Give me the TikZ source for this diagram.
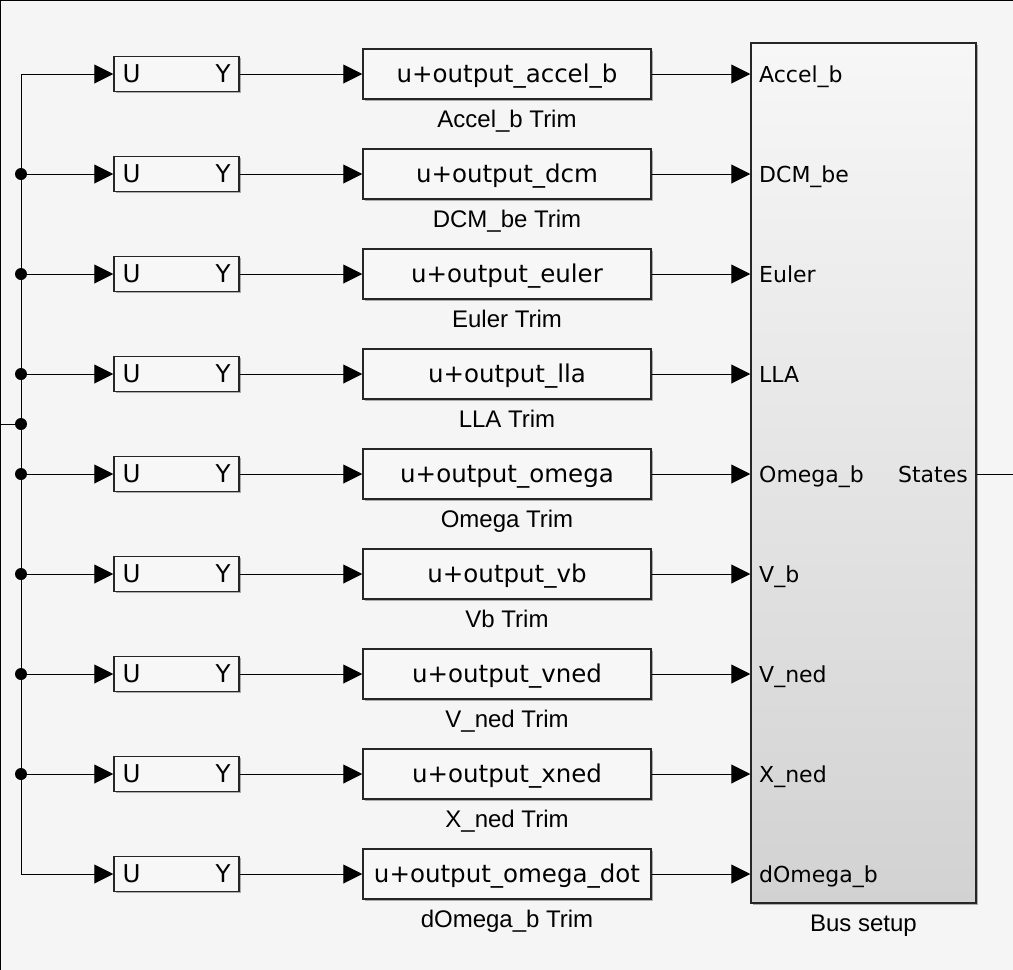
\documentclass[tikz,border=0pt]{standalone}
\usepackage{fontspec}
\newfontfamily\dvfont{DejaVu Sans}
\newfontfamily\libfont{Liberation Sans}
\usetikzlibrary{arrows.meta,shadows}
\definecolor{bgc}{HTML}{F5F5F5}
\definecolor{blkfill}{HTML}{F7F7F7}
\definecolor{bustop}{HTML}{F7F7F7}
\definecolor{busbot}{HTML}{D2D2D2}
\tikzset{
  shad/.style={drop shadow={shadow xshift=1.5pt,shadow yshift=-1.5pt,opacity=0.3,fill=black}},
  uyblk/.style={draw=black!85, line width=1.5pt, fill=blkfill, shad, minimum width=125pt, minimum height=35pt, inner sep=0pt,
    font=\dvfont\fontsize{24.5}{28}\selectfont, text height=16pt, text depth=0pt},
  gainblk/.style={draw=black!85, line width=1.5pt, fill=blkfill, shad, minimum width=288pt, minimum height=50pt, inner sep=0pt,
    font=\dvfont\fontsize{24.5}{28}\selectfont, text height=16pt, text depth=0pt},
  busblk/.style={draw=black!85, line width=1.5pt, top color=bustop, bottom color=busbot, shad, minimum width=225pt, minimum height=860pt, inner sep=0pt},
  porttxt/.style={font=\dvfont\fontsize{22}{26}\selectfont, text height=16pt, text depth=0pt, inner sep=0pt},
  labtxt/.style={font=\libfont\fontsize{24}{28}\selectfont, inner sep=0pt, anchor=base},
  wire/.style={line width=1pt, draw=black},
  arr/.style={wire, -{Triangle[length=19pt,width=19pt]}},
  jdot/.style={circle, fill=black, inner sep=0pt, minimum size=12pt},
}
\begin{document}
\begin{tikzpicture}[x=1pt,y=-1pt]
\useasboundingbox (0,0) rectangle (1013,970);
\fill[bgc] (0,0) rectangle (1013,970);
\draw[line width=2pt] (0,970) -- (0,0) -- (1013,0);

% bus block
\node[busblk] (bus) at (863.5,473) {};
\node[labtxt] (buslab) at (863.5,931) {Bus setup};
\node[porttxt, anchor=east] (states) at (968,474) {States};
\coordinate (out) at (1013,474);
\draw[wire] (out -| bus.east) -- (out);

% rows
\foreach \i/\y/\gtxt/\ltxt/\ptxt in {
  1/74/u+output\_accel\_b/Accel\_b Trim/Accel\_b,
  2/174/u+output\_dcm/DCM\_be Trim/DCM\_be,
  3/274/u+output\_euler/Euler Trim/Euler,
  4/374/u+output\_lla/LLA Trim/LLA,
  5/474/u+output\_omega/Omega Trim/Omega\_b,
  6/574/u+output\_vb/Vb Trim/V\_b,
  7/674/u+output\_vned/V\_ned Trim/V\_ned,
  8/774/u+output\_xned/X\_ned Trim/X\_ned,
  9/874/u+output\_omega\_dot/dOmega\_b Trim/dOmega\_b}{
  \node[uyblk] (uy\i) at (176.5,\y) {\makebox[108pt]{U\hfill Y}};
  \node[gainblk] (g\i) at (507,\y) {\gtxt};
  \node[labtxt] (gl\i) at (507,\y+53) {\ltxt};
  \node[porttxt, anchor=west] (p\i) at (759,\y) {\ptxt};
  \draw[arr] (uy\i.east) -- (g\i.west);
  \draw[arr] (g\i.east) -- (g\i.east -| bus.west);
}

% distribution bus on the left
\coordinate (jtop) at (21,74);
\coordinate (jbot) at (21,874);
\coordinate (in) at (0,424);
\node[jdot] (jin) at (21,424) {};
\draw[wire] (jtop) -- (jbot);
\draw[wire] (in) -- (jin);
\draw[arr] (jtop) -- (uy1.west);
\draw[arr] (jbot) -- (uy9.west);
\foreach \i/\y in {2/174,3/274,4/374,5/474,6/574,7/674,8/774}{
  \node[jdot] (j\i) at (21,\y) {};
  \draw[arr] (j\i) -- (uy\i.west);
}
\end{tikzpicture}
\end{document}
